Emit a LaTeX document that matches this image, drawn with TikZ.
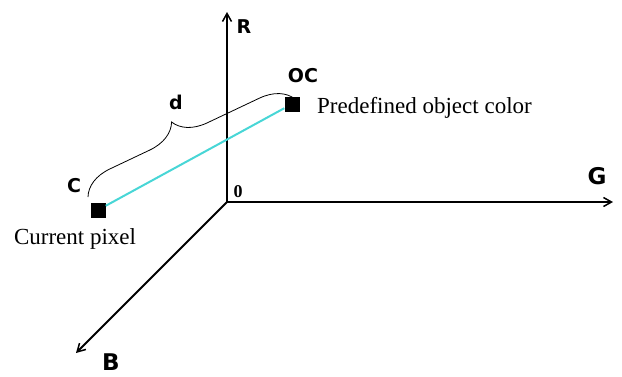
\documentclass[tikz,border=0pt]{standalone}
\usepackage{fontspec}
\setmainfont{Liberation Serif}
\newfontfamily\axfont{DejaVu Sans}
\usepackage{xcolor}
\usepackage{tikz}
\usetikzlibrary{arrows.meta, positioning, decorations.pathreplacing}
\definecolor{distline}{RGB}{72,214,214}

\begin{document}
\begin{tikzpicture}[x=1pt, y=-1pt,
   axis/.style={line width=1.9pt, -{Straight Barb[length=8pt, width=9pt, line width=1.5pt]}},
   pix/.style={fill=black, minimum size=15pt, inner sep=0pt},
   axlbl/.style={font=\axfont\bfseries\fontsize{19}{19}\selectfont, inner sep=0pt},
   txt/.style={font=\fontsize{23}{23}\selectfont, inner sep=0pt}]
  \useasboundingbox (0,0) rectangle (622,376);
  % axes
  \coordinate (o) at (227,202);
  \coordinate (rend) at (227,12);
  \coordinate (gend) at (613,202);
  \coordinate (bend) at (76,353);
  \draw[axis] (o) -- (rend);
  \draw[axis] (o) -- (gend);
  \draw[axis] (o) -- (bend);
  \node[axlbl] (r) at (244,27) {R};
  \node[axlbl, font=\axfont\bfseries\fontsize{23}{23}\selectfont] (g) at (597,176) {G};
  \node[axlbl, font=\axfont\bfseries\fontsize{23}{23}\selectfont] (b) at (111,362) {B};
  \node[txt, font=\bfseries\fontsize{18}{18}\selectfont] (zero) at (238,192) {0};
  % the two colours and their distance
  \node[pix] (c) at (98,210) {};
  \node[pix] (oc) at (292,104) {};
  \draw[distline, line width=2pt] (c) -- (oc);
  \coordinate (bra) at (88,197);
  \coordinate (brb) at (295,99);
  \draw[line width=0.8pt, decorate, decoration={brace, amplitude=32pt, aspect=0.47}]
        (bra) -- (brb);
  \node[axlbl] (dlbl) at (176,102) {d};
  \node[axlbl] (clbl) at (74,186) {C};
  \node[axlbl] (oclbl) at (303,76) {OC};
  \node[txt, anchor=west] (octxt) at (317,108) {Predefined object color};
  \node[txt] (ctxt) at (75,239) {Current pixel};
\end{tikzpicture}
\end{document}
